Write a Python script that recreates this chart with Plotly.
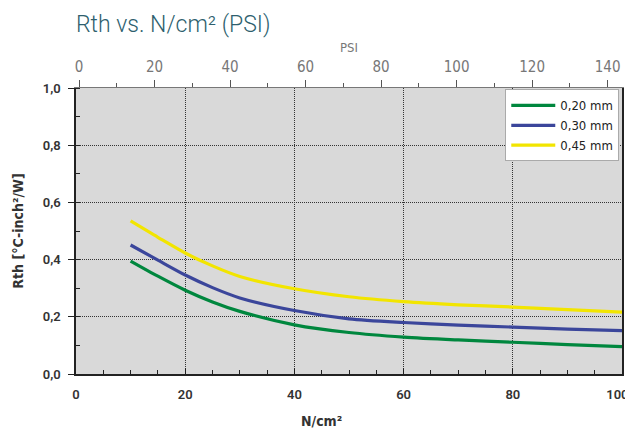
import plotly.graph_objects as go

pressure_ncm2 = [10, 15, 20, 25, 30, 40, 50, 60, 70, 80, 90, 100]
rth_020 = [0.395, 0.342, 0.293, 0.252, 0.219, 0.172, 0.145, 0.129, 0.119, 0.111, 0.103, 0.096]
rth_030 = [0.451, 0.398, 0.346, 0.302, 0.266, 0.222, 0.193, 0.180, 0.171, 0.164, 0.157, 0.152]
rth_045 = [0.535, 0.478, 0.423, 0.378, 0.341, 0.298, 0.270, 0.253, 0.242, 0.234, 0.225, 0.216]
series_names = ["0,20 mm", "0,30 mm", "0,45 mm"]
series_colors = ["#00873e", "#3b469b", "#f2e500"]
x_tickvals = [0, 20, 40, 60, 80, 100]
x_ticktext = ["0", "20", "40", "60", "80", "100\u2002\u2009"]
psi_tickvals = [0, 20, 40, 60, 80, 100, 120, 140]
psi_range = [-0.8, 143.8]

fig = go.Figure()
for name, ys, col in zip(series_names, [rth_020, rth_030, rth_045], series_colors):
    fig.add_trace(go.Scatter(x=pressure_ncm2, y=ys, mode="lines", name=name,
                             line=dict(color=col, width=3.2, shape="spline", smoothing=0.8)))
# invisible trace for the top PSI axis
fig.add_trace(go.Scatter(x=psi_range, y=[0, 0], xaxis="x2", mode="lines",
                         line=dict(width=0), showlegend=False, hoverinfo="skip"))

narrow = "Liberation Sans Narrow, DejaVu Sans Condensed, Roboto"
tick_font = dict(family="Roboto", size=13, color="#333333", weight=600)
grid_dash = "1px,1px"

fig.update_layout(
    width=633, height=430,
    margin=dict(l=68, r=19, t=80, b=64),
    paper_bgcolor="white",
    plot_bgcolor="#d9d9d9",
    separators=",.",
    font=dict(family="Roboto"),
    showlegend=True,
    legend=dict(x=0.995, y=0.995, xanchor="right", yanchor="top",
                bgcolor="white", bordercolor="#aaaaaa", borderwidth=1,
                font=dict(family=narrow, size=13, color="#222222", weight=500),
                itemwidth=44, tracegroupgap=0),
    xaxis=dict(range=[0, 100], tickvals=x_tickvals, ticktext=x_ticktext, automargin=False,
               ticklabeloverflow="allow", ticklabelstandoff=8,
               ticks="inside", ticklen=6, tickcolor="#222", tickwidth=1,
               minor=dict(dtick=5, ticks="inside", ticklen=4, tickcolor="#222", showgrid=False),
               showgrid=True, gridcolor="#333333", griddash=grid_dash, gridwidth=1,
               showline=True, linecolor="#222", linewidth=1.5,
               zeroline=False, tickfont=tick_font),
    xaxis2=dict(range=psi_range, overlaying="x", side="top", automargin=False,
                tickvals=psi_tickvals,
                ticklabeloverflow="allow", ticklabelstandoff=2,
                ticks="outside", ticklen=7, tickcolor="#555", tickwidth=1,
                minor=dict(dtick=10, ticks="outside", ticklen=4, tickcolor="#555", showgrid=False),
                showgrid=False, showline=True, linecolor="#777", linewidth=1, zeroline=False,
                tickfont=dict(family=narrow, size=15, color="#777777", weight=400),
                title=dict(text="PSI", font=dict(family=narrow, size=13, color="#777777", weight=400),
                           standoff=2)),
    yaxis=dict(range=[0, 1.0], tickvals=[0, 0.2, 0.4, 0.6, 0.8, 1.0], tickformat=".1f",
               automargin=False, ticklabelstandoff=5,
               ticks="outside", ticklen=6, tickcolor="#222", tickwidth=1,
               minor=dict(dtick=0.1, ticks="inside", ticklen=4, tickcolor="#222", showgrid=False),
               showgrid=True, gridcolor="#333333", griddash=grid_dash, gridwidth=1,
               showline=True, linecolor="#222", linewidth=1.5, mirror=True,
               zeroline=False, tickfont=tick_font,
               title=dict(text="Rth [°C-inch²/W]", font=dict(family=narrow, size=14, color="#333333", weight=700),
                          standoff=16)),
)

fig.add_annotation(text="N/cm²", xref="paper", yref="paper", x=0.45, y=0, yshift=-37,
                   xanchor="center", yanchor="top", showarrow=False,
                   font=dict(family=narrow, size=14, color="#333333", weight=700))

fig.add_annotation(text="Rth vs. N/cm² (PSI)", xref="paper", yref="paper", x=-0.003, y=1.0,
                   yshift=64, xanchor="left", yanchor="middle", showarrow=False,
                   font=dict(family="Roboto", size=23, color="#2e5f6e", weight=300))

fig.write_html("out.html")
